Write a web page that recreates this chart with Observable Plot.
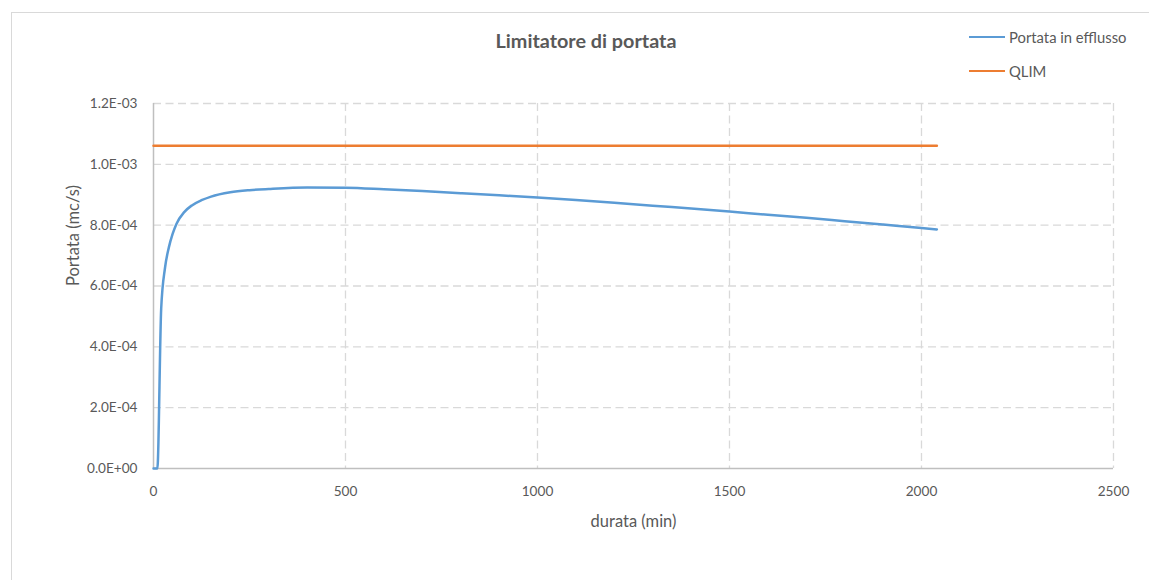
<!DOCTYPE html>
<html>
<head>
<meta charset="utf-8">
<script src="https://cdn.jsdelivr.net/npm/d3@7"></script>
<script src="https://cdn.jsdelivr.net/npm/@observablehq/plot@0.6"></script>
<style>
  html, body { margin: 0; padding: 0; background: #fff; overflow: hidden; }
  #wrap { position: relative; width: 1149px; height: 580px; overflow: hidden; font-family: Lato, "Open Sans", sans-serif; color: #595959; }
  #border { position: absolute; left: 10.5px; top: 11.5px; width: 1300px; height: 800px; border: 1px solid #d9d9d9; box-sizing: border-box; }
  #chart { position: absolute; left: 0; top: 0; }
  #title { position: absolute; left: 0; width: 1172px; top: 28px; text-align: center; font-weight: bold; font-size: 19.8px; color: #595959; }
  .leg { position: absolute; left: 969px; font-size: 14.8px; color: #595959; display: flex; align-items: center; }
  .leg .sw { width: 36px; height: 2.5px; margin-right: 4px; }
</style>
</head>
<body>
<div id="wrap">
  <div id="border"></div>
  <div id="chart"></div>
  <div id="title">Limitatore di portata</div>
  <div class="leg" style="top:28px"><div class="sw" style="background:#5B9BD5"></div>Portata in efflusso</div>
  <div class="leg" style="top:62px"><div class="sw" style="background:#ED7D31"></div>QLIM</div>
</div>
<script>
// Series: "Portata in efflusso" (duration in minutes, flow in m³/s)
const durata = [0, 10, 20, 30, 40, 50, 60, 80, 100, 125, 150, 200, 250, 300, 400, 500, 600, 700, 800, 900, 1000, 1100, 1200, 1300, 1400, 1500, 1600, 1700, 1800, 1900, 2000, 2040];
const portata = [0, 0, 0.525e-3, 0.660e-3, 0.727e-3, 0.772e-3, 0.805e-3, 0.843e-3, 0.865e-3, 0.882e-3, 0.894e-3, 0.908e-3, 0.915e-3, 0.919e-3, 0.924e-3, 0.923e-3, 0.918e-3, 0.912e-3, 0.905e-3, 0.898e-3, 0.891e-3, 0.883e-3, 0.874e-3, 0.864e-3, 0.855e-3, 0.845e-3, 0.834e-3, 0.824e-3, 0.813e-3, 0.802e-3, 0.791e-3, 0.786e-3];
// Series: QLIM
const qlimDurata = [0, 2040];
const qlimValore = [1.061e-3, 1.061e-3];
// Ticks
const xTicks = [0, 500, 1000, 1500, 2000, 2500];
const yTicks = [0, 0.2e-3, 0.4e-3, 0.6e-3, 0.8e-3, 1.0e-3, 1.2e-3];

const fmtE = d => {
  const s = d.toExponential(1).toUpperCase();
  return s.replace(/E([+-])(\d)$/, "E$10$2");
};

const flow = durata.map((t, i) => ({t, q: portata[i]}));
const qlim = qlimDurata.map((t, i) => ({t, q: qlimValore[i]}));

const grid = {stroke: "#d9d9d9", strokeOpacity: 1, strokeWidth: 1.3, strokeDasharray: "8,4.5"};

const chart = Plot.plot({
  width: 1149,
  height: 580,
  marginLeft: 153,
  marginRight: 36,
  marginTop: 103,
  marginBottom: 112,
  style: {fontFamily: "Lato, 'Open Sans', sans-serif", fontSize: "13.6px", color: "#595959", background: "transparent"},
  x: {domain: [0, 2500], label: null},
  y: {domain: [0, 1.2e-3], label: null},
  marks: [
    Plot.gridX(xTicks.filter(d => d > 0), grid),
    Plot.gridY(yTicks.filter(d => d > 0), grid),
    Plot.ruleX([0], {stroke: "#bfbfbf", strokeWidth: 1.5}),
    Plot.ruleY([0], {stroke: "#bfbfbf", strokeWidth: 1.5}),
    Plot.axisX({ticks: xTicks, tickSize: 0, tickPadding: 18, tickFormat: d => String(d), fill: "#595959", label: null}),
    Plot.axisY({ticks: yTicks, tickSize: 0, tickPadding: 16, tickFormat: fmtE, fill: "#595959", label: null}),
    Plot.text(["durata (min)"], {frameAnchor: "bottom", dy: 53, fontSize: 16.5, fill: "#595959", lineAnchor: "middle"}),
    Plot.text(["Portata (mc/s)"], {frameAnchor: "left", dx: -80, rotate: -90, fontSize: 16.5, fill: "#595959", lineAnchor: "middle"}),
    Plot.line(qlim, {x: "t", y: "q", stroke: "#ED7D31", strokeWidth: 2.5}),
    Plot.line(flow, {x: "t", y: "q", stroke: "#5B9BD5", strokeWidth: 2.5, curve: "monotone-x"})
  ]
});
document.getElementById("chart").appendChild(chart);
</script>
</body>
</html>
